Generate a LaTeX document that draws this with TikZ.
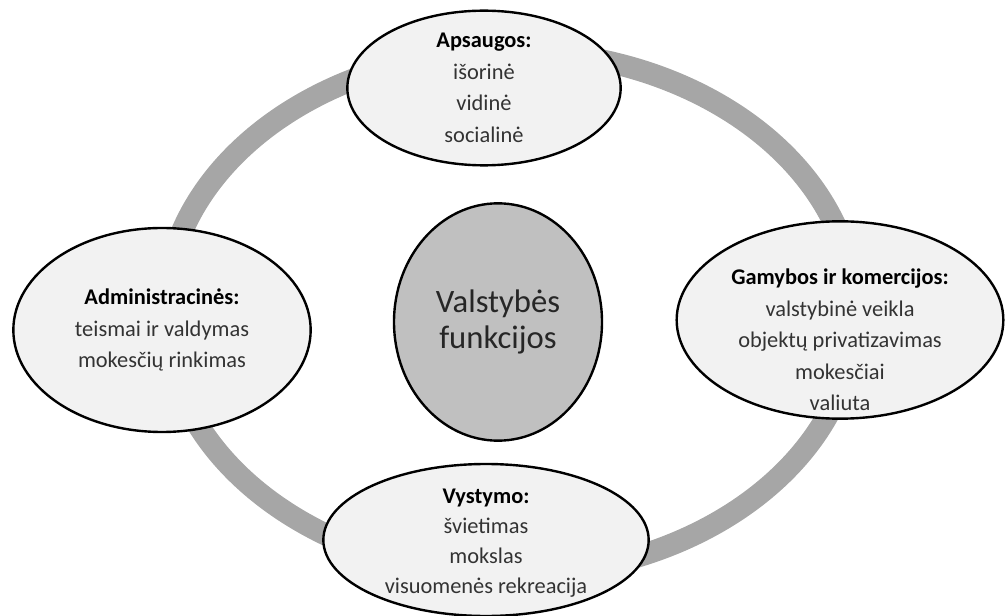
\documentclass[tikz,border=0pt]{standalone}
\usepackage{fontspec}
\setmainfont{Carlito}
\usepackage{tikz}
\usetikzlibrary{shapes.geometric}

\definecolor{ringgray}{HTML}{A6A6A6}
\definecolor{ovalfill}{HTML}{F2F2F2}
\definecolor{midfill}{HTML}{C0C0C0}

\tikzset{
  oval/.style={ellipse, draw=black, line width=1.8pt, fill=ovalfill, inner sep=0pt},
  txt/.style={align=center, text=black!80, font=\fontsize{16.8}{23.6}\selectfont},
}

\begin{document}
\begin{tikzpicture}[x=0.75pt,y=-0.75pt]
  \useasboundingbox (0,0) rectangle (1006,616);
  % ring behind
  \draw[ringgray, line width=16.5pt] (510,313) ellipse [x radius=345, y radius=262];

  \node[oval, minimum width=205pt, minimum height=116pt] (apsauga) at (484,88) {};
  \node[oval, minimum width=223pt, minimum height=153pt] (admin) at (162,330) {};
  \node[oval, minimum width=245pt, minimum height=148pt] (gamyba) at (840,320) {};
  \node[oval, minimum width=244pt, minimum height=114pt] (vystymas) at (486,540) {};
  \node[oval, fill=midfill, minimum width=156pt, minimum height=178pt] (centras) at (498,322) {};

  \node[txt] at (apsauga) {\textbf{\color{black}Apsaugos:}\\išorinė\\vidinė\\socialinė};
  \node[txt] at (admin) {\textbf{\color{black}Administracinės:}\\teismai ir valdymas\\mokesčių rinkimas};
  \node[txt] at ([yshift=-15pt]gamyba.center) {\textbf{\color{black}Gamybos ir komercijos:}\\valstybinė veikla\\objektų privatizavimas\\mokesčiai\\valiuta};
  \node[txt, font=\fontsize{16.8}{22.5}\selectfont] at ([yshift=-2pt]vystymas.center) {\textbf{\color{black}Vystymo:}\\švietimas\\mokslas\\visuomenės rekreacija};
  \node[txt, text=black!85, font=\fontsize{24.5}{27}\selectfont] at (centras) {Valstybės\\funkcijos};
\end{tikzpicture}
\end{document}
